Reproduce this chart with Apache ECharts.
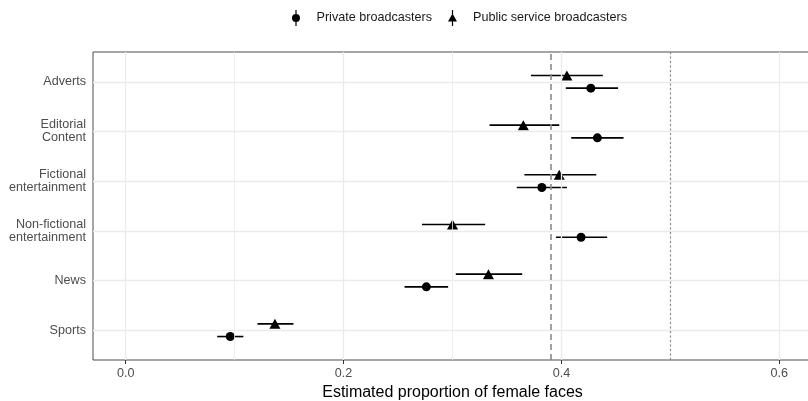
<!DOCTYPE html>
<html>
<head>
<meta charset="utf-8">
<script src="https://cdn.jsdelivr.net/npm/echarts@6/dist/echarts.min.js"></script>
<style>
  html, body { margin: 0; padding: 0; background: #fff; overflow: hidden; }
  #chart { width: 808px; height: 401px; }
</style>
</head>
<body>
<div id="chart"></div>
<script>
// ---- data ----
const categories = ['Adverts', 'Editorial\nContent', 'Fictional\nentertainment', 'Non-fictional\nentertainment', 'News', 'Sports'];
const privateEst = [0.427, 0.433, 0.382, 0.418, 0.276, 0.096];
const privateLo  = [0.404, 0.409, 0.359, 0.395, 0.256, 0.084];
const privateHi  = [0.452, 0.457, 0.405, 0.442, 0.296, 0.108];
const publicEst  = [0.405, 0.365, 0.398, 0.300, 0.333, 0.137];
const publicLo   = [0.372, 0.334, 0.366, 0.272, 0.303, 0.121];
const publicHi   = [0.438, 0.398, 0.432, 0.330, 0.364, 0.154];
const xTicks = [0, 0.2, 0.4, 0.6];
const xMinor = [0.1, 0.3, 0.5];
const overallMean = 0.394;
const parity = 0.5;
const seriesNames = ['Private broadcasters', 'Public service broadcasters'];

// ---- layout / style constants ----
const nCat = categories.length;
const dodge = 0.128;
const yPos = i => nCat - i;
const yTicks = categories.map((c, i) => yPos(i));

const circleIcon = 'path://M3.9,0H5.1V16H3.9Z M4.5,4A4,4 0 1 1 4.49,4Z';
const triIcon = 'path://M3.9,0H5.1V16H3.9Z M4.5,3.5L9,11.5H0Z';

function errData(lo, hi, sign) {
  return lo.map((l, i) => [yPos(i) + sign * dodge, l, hi[i]]);
}
function ptData(est, sign) {
  return est.map((e, i) => [e, yPos(i) + sign * dodge]);
}
function errRender(params, api) {
  const y = api.value(0), lo = api.value(1), hi = api.value(2);
  const a = api.coord([lo, y]), b = api.coord([hi, y]);
  return { type: 'line', shape: { x1: a[0], y1: a[1], x2: b[0], y2: b[1] },
           style: { stroke: '#000', lineWidth: 1.6 } };
}

const gridLines = []
  .concat(xTicks.map(v => ({ xAxis: v, lineStyle: { width: 1.3 } })))
  .concat(xMinor.map(v => ({ xAxis: v, lineStyle: { width: 0.8 } })))
  .concat(yTicks.map(v => ({ yAxis: v, lineStyle: { width: 1.3 } })));

const chart = echarts.init(document.getElementById('chart'), null, { renderer: 'canvas' });
chart.setOption({
  animation: false,
  textStyle: { fontFamily: 'Liberation Sans, Arial, sans-serif' },
  grid: { left: 93, top: 52, width: 719, height: 308, containLabel: false, outerBoundsMode: 'none',
          show: true, borderColor: '#4d4d4d', borderWidth: 1, backgroundColor: 'transparent' },
  legend: {
    top: 5, left: 287,
    itemWidth: 9, itemHeight: 16, itemGap: 16,
    textStyle: { fontSize: 12.6, color: '#1a1a1a', padding: [0, 0, 0, 11] },
    data: [{ name: seriesNames[0], icon: circleIcon }, { name: seriesNames[1], icon: triIcon }]
  },
  xAxis: {
    type: 'value', min: -0.03, max: 0.63,
    axisLine: { show: false },
    axisTick: { show: true, customValues: xTicks, length: 4, lineStyle: { color: '#333' } },
    axisLabel: { customValues: xTicks, formatter: v => v.toFixed(1), color: '#4d4d4d', fontSize: 12.6, margin: 7 },
    splitLine: { show: false },
    name: 'Estimated proportion of female faces',
    nameLocation: 'middle', nameGap: 19,
    nameTextStyle: { fontSize: 16, color: '#000' }
  },
  yAxis: {
    type: 'value', min: 0.4, max: 6.6,
    axisLine: { show: false },
    axisTick: { show: true, customValues: yTicks, length: 4, lineStyle: { color: '#333' } },
    axisLabel: { customValues: yTicks, formatter: v => categories[nCat - v] || '', color: '#4d4d4d', fontSize: 12.6, lineHeight: 13, margin: 7, align: 'right', padding: [4, 0, 0, 0] },
    splitLine: { show: false }
  },
  series: [
    {
      name: 'grid', type: 'line', data: [], z: 0, silent: true,
      markLine: { silent: true, symbol: 'none', label: { show: false }, animation: false,
        lineStyle: { color: '#ebebeb', type: 'solid' }, data: gridLines }
    },
    {
      name: 'refs', type: 'line', data: [], z: 1, silent: true,
      markLine: { silent: true, symbol: 'none', label: { show: false }, animation: false,
        data: [
          { xAxis: overallMean, lineStyle: { color: '#8a8a8a', type: [6, 4], width: 1.6 } },
          { xAxis: parity, lineStyle: { color: '#8a8a8a', type: [2, 2.5], width: 1.2 } }
        ] }
    },
    { name: 'privCI', type: 'custom', renderItem: errRender, data: errData(privateLo, privateHi, -1), encode: { x: [1, 2], y: 0 }, z: 2, silent: true },
    { name: 'pubCI', type: 'custom', renderItem: errRender, data: errData(publicLo, publicHi, 1), encode: { x: [1, 2], y: 0 }, z: 2, silent: true },
    { name: seriesNames[0], type: 'scatter', symbol: 'circle', symbolSize: 9, data: ptData(privateEst, -1), itemStyle: { color: '#000', opacity: 1 }, z: 3 },
    { name: seriesNames[1], type: 'scatter', symbol: 'triangle', symbolSize: [11, 10], data: ptData(publicEst, 1), itemStyle: { color: '#000', opacity: 1 }, z: 3 }
  ]
});
</script>
</body>
</html>
